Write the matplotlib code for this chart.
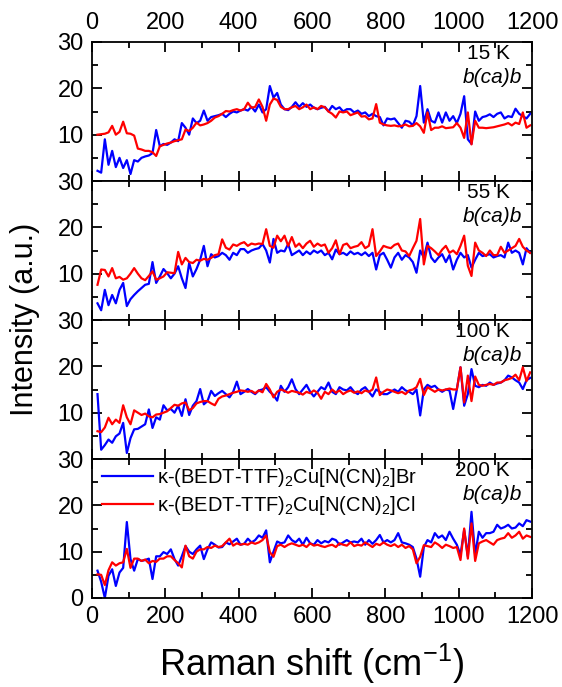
import numpy as np
import matplotlib
matplotlib.use('Agg')
import matplotlib.pyplot as plt

# Raman shift grid (cm-1), 15 ... 1195
shift = np.arange(15, 1200, 10)

temps = ['15 K', '55 K', '100 K', '200 K']

# kappa-Br (blue) spectra
br_15 = [2.2, 1.8, 9.0, 3.5, 6.5, 3.0, 5.0, 2.8, 4.5, 1.5,
         4.5, 4.2, 5.0, 5.3, 5.5, 6.0, 11.0, 7.5, 8.0, 7.8,
         8.3, 9.0, 8.6, 12.5, 11.5, 10.0, 13.5, 12.5, 13.0, 15.2,
         13.0, 13.8, 14.0, 14.2, 14.5, 13.8, 14.5, 15.0, 14.8, 15.2,
         15.5, 15.2, 16.0, 15.0, 16.5, 14.8, 15.5, 20.5, 18.0, 19.0,
         16.5, 15.5, 15.3, 16.0, 17.0, 16.0, 16.8, 16.0, 16.5, 15.8,
         15.5, 15.8, 16.0, 15.0, 16.2, 15.5, 15.9, 15.0, 15.5, 15.5,
         14.8, 15.2, 14.5, 14.8, 14.0, 14.5, 14.0, 13.8, 12.0, 13.5,
         13.3, 13.5, 12.5, 11.5, 13.0, 12.8, 12.0, 14.0, 20.5, 12.6,
         15.5, 13.0, 12.6, 14.8, 12.6, 14.8, 13.0, 14.0, 12.5, 14.5,
         18.3, 9.0, 8.0, 15.0, 13.0, 13.8, 14.0, 14.4, 13.8, 14.5,
         14.8, 13.5, 14.0, 13.8, 15.6, 14.5, 14.0, 13.5, 14.5]
br_55 = [3.6, 2.1, 6.5, 3.2, 5.4, 3.6, 6.5, 8.0, 3.0, 4.5,
         5.4, 6.2, 6.9, 7.6, 7.8, 12.5, 8.0, 9.4, 11.0, 10.1,
         9.0, 10.0, 11.6, 9.0, 6.9, 12.3, 9.4, 11.0, 13.0, 16.0,
         11.6, 14.2, 13.5, 13.8, 14.5, 14.0, 13.0, 14.5, 14.0, 15.3,
         15.3, 14.5, 15.0, 15.3, 15.5, 16.4, 15.0, 12.4, 17.5, 14.5,
         15.0, 14.8, 16.4, 14.0, 14.5, 15.0, 14.0, 14.8, 14.2, 15.0,
         14.5, 15.0, 14.0, 14.5, 13.1, 15.2, 14.2, 14.5, 14.0, 14.8,
         14.2, 14.5, 14.0, 14.6, 13.8, 14.5, 10.9, 14.0, 14.5, 13.0,
         11.3, 13.5, 14.5, 13.0, 14.0, 13.5, 12.5, 10.2, 15.0, 13.5,
         16.7, 13.5, 12.5, 13.5, 14.2, 12.5, 14.0, 10.9, 13.0, 14.5,
         13.5, 14.0, 11.3, 13.0, 14.5, 13.8, 14.0, 14.2, 13.5, 13.8,
         14.0, 13.5, 16.7, 14.5, 15.0, 14.5, 12.0, 15.5, 14.5]
br_100 = [14.0, 2.0, 3.0, 4.2, 3.5, 4.9, 5.5, 7.8, 1.3, 4.5,
          6.4, 6.5, 7.0, 7.5, 10.7, 6.7, 9.0, 8.5, 11.6, 10.5,
          10.8, 10.0, 11.5, 9.3, 12.9, 9.5, 11.5, 12.5, 15.1, 11.8,
          12.5, 14.7, 13.6, 14.2, 14.7, 14.0, 13.3, 14.5, 16.7, 14.0,
          14.5, 15.1, 14.5, 14.0, 14.8, 15.0, 15.5, 14.5, 13.8, 12.6,
          15.8, 14.5, 15.5, 17.2, 15.1, 14.0, 15.0, 16.0, 14.5, 13.5,
          14.5, 15.5, 15.0, 16.5, 14.5, 14.0, 15.5, 15.0, 14.8, 15.5,
          14.5, 14.0, 15.0, 15.5, 14.5, 13.5, 15.0, 14.5, 14.0, 14.0,
          14.5, 15.0, 14.5, 15.5, 14.8, 14.5, 14.0, 15.0, 9.4, 15.0,
          16.0, 15.5, 15.8, 15.0, 14.5, 15.0, 14.8, 10.8, 15.0, 19.8,
          11.5, 14.0, 19.4, 15.8, 15.5, 16.0, 15.8, 16.5, 16.0, 16.3,
          16.5, 17.0, 18.0, 17.6, 17.0, 16.5, 15.1, 17.0, 17.5]
br_200 = [5.9, 3.5, 0.0, 4.8, 6.2, 2.6, 5.5, 6.5, 16.4, 8.4,
          5.9, 8.4, 8.0, 8.2, 8.5, 4.1, 9.0, 9.0, 9.9, 9.5,
          10.5, 8.4, 7.0, 9.0, 11.2, 10.0, 9.5, 10.5, 11.3, 8.4,
          10.5, 12.0, 11.5, 10.9, 11.0, 12.0, 11.6, 12.2, 12.8, 11.5,
          11.7, 12.8, 12.0, 12.5, 13.5, 13.0, 14.6, 7.7, 10.0, 12.2,
          11.8, 12.0, 13.5, 12.5, 12.0, 12.8, 11.5, 13.0, 11.8, 11.5,
          12.5, 11.8, 12.3, 12.0, 12.8, 12.5, 11.5, 12.0, 12.5, 12.0,
          12.2, 12.0, 12.8, 11.5, 12.5, 11.7, 12.5, 13.6, 12.0, 12.5,
          12.0, 12.5, 14.0, 12.0, 11.8, 11.5, 11.0, 8.5, 4.6, 11.0,
          12.5, 12.0, 14.0, 13.0, 13.5, 12.5, 14.3, 12.8, 11.5, 9.3,
          14.7, 9.0, 18.6, 9.3, 14.3, 13.0, 14.0, 14.0, 14.3, 15.8,
          15.0, 15.3, 15.8, 15.0, 15.2, 16.1, 15.5, 16.8, 16.5]

# kappa-Cl (red) spectra
cl_15 = [10.0, 10.1, 10.2, 10.5, 11.9, 10.0, 10.6, 12.8, 10.3, 10.2,
         9.8, 7.0, 6.8, 6.5, 6.5, 6.2, 5.4, 7.5, 7.8, 8.1,
         8.3, 8.6, 8.8, 9.0, 11.1, 10.8, 11.5, 12.6, 12.0, 12.2,
         12.5, 13.0, 13.7, 14.0, 14.5, 15.1, 15.0, 15.3, 15.5, 15.2,
         15.5, 16.9, 15.8, 16.0, 17.6, 16.0, 13.0, 16.5, 17.8, 17.5,
         16.0, 15.5, 15.5, 15.9, 16.2, 15.5, 15.9, 16.5, 15.5, 15.9,
         15.5, 16.2, 15.9, 15.0, 14.5, 13.7, 15.0, 14.8, 15.0, 14.2,
         14.5, 14.8, 13.9, 14.0, 13.3, 13.5, 16.6, 12.6, 12.2, 12.0,
         11.9, 12.0, 11.8, 11.9, 12.2, 11.8, 11.9, 12.5, 11.8, 10.4,
         14.8, 11.0, 11.5, 11.5, 11.8, 11.4, 11.5, 11.6, 12.5, 11.5,
         9.3, 14.8, 7.9, 13.0, 11.5, 11.5, 11.4, 11.5, 11.6, 11.8,
         12.0, 12.2, 12.5, 12.0, 12.6, 12.3, 14.8, 11.5, 12.0]
cl_55 = [7.6, 10.9, 10.8, 9.4, 11.2, 9.0, 9.3, 8.7, 9.0, 10.0,
         11.2, 10.0, 9.0, 8.6, 9.5, 10.5, 8.7, 9.0, 9.4, 10.3,
         10.2, 10.1, 14.7, 12.0, 13.4, 12.5, 12.3, 13.0, 12.8, 13.2,
         13.0, 13.4, 14.0, 14.2, 17.4, 15.6, 15.2, 16.3, 16.0, 16.5,
         16.8, 16.0, 16.5, 16.3, 16.5, 16.4, 19.6, 16.0, 15.6, 18.2,
         17.0, 18.2, 16.0, 17.9, 15.8, 16.5, 15.5, 16.5, 17.1, 15.8,
         16.5, 16.0, 16.3, 14.5, 15.5, 17.2, 14.2, 16.2, 16.5, 15.5,
         15.8, 16.0, 16.8, 15.5, 16.0, 19.6, 13.8, 14.8, 16.0, 15.7,
         15.5, 16.2, 16.5, 15.0, 14.8, 13.8, 15.5, 17.1, 21.8, 12.0,
         16.0, 15.5, 14.8, 14.0, 15.2, 16.0, 14.5, 15.0, 14.2, 16.0,
         18.2, 11.7, 9.5, 16.7, 15.0, 14.5, 13.8, 15.0, 14.0, 14.0,
         15.8, 14.5, 15.0, 15.5, 16.0, 17.5, 15.8, 15.0, 14.5]
cl_100 = [6.0, 5.8, 6.8, 8.9, 7.5, 8.5, 7.8, 11.6, 9.0, 7.5,
          10.5, 10.0, 9.5, 9.8, 9.2, 9.0, 9.6, 9.7, 10.0, 10.3,
          11.0, 11.7, 11.5, 12.0, 12.2, 10.5, 11.0, 12.0, 12.3, 12.5,
          12.5, 12.0, 11.6, 13.0, 13.5, 13.7, 14.0, 14.3, 14.5, 14.8,
          14.7, 14.5, 14.7, 14.2, 14.8, 14.4, 16.2, 15.0, 13.3, 14.5,
          15.0, 14.7, 14.3, 14.7, 14.5, 14.3, 13.9, 14.5, 14.2, 14.8,
          14.3, 13.0, 14.5, 14.0, 15.0, 14.3, 14.8, 14.0, 14.5, 14.8,
          14.3, 14.6, 14.2, 14.8, 14.5, 15.0, 17.6, 13.8, 14.5, 15.0,
          14.8, 14.5, 14.2, 14.5, 14.0, 14.8, 15.0, 15.5, 17.3, 13.8,
          15.5, 15.0, 14.5, 15.0, 14.8, 15.0, 15.2, 15.0, 15.0, 19.8,
          12.2, 18.0, 12.5, 17.8, 16.0, 15.8, 16.0, 16.2, 16.0, 16.5,
          16.5, 17.0, 17.2, 17.5, 18.2, 17.0, 19.8, 16.8, 18.7]
cl_200 = [5.1, 5.0, 2.8, 6.0, 7.7, 7.0, 7.5, 7.7, 10.6, 6.5,
          8.5, 8.5, 8.0, 8.3, 7.5, 8.0, 7.8, 8.5, 8.5, 9.0,
          9.0, 8.2, 7.5, 6.6, 11.3, 9.0, 8.5, 10.0, 10.5, 10.5,
          11.0, 10.8, 11.3, 11.0, 11.2, 12.0, 12.8, 11.3, 11.8, 11.5,
          11.7, 11.5, 12.0, 11.7, 12.0, 12.5, 13.5, 9.9, 8.9, 11.2,
          11.5, 11.0, 11.5, 11.8, 11.5, 11.2, 11.5, 11.0, 11.8, 11.3,
          11.5, 11.2, 11.0, 11.3, 11.5, 11.0, 11.8, 11.5, 11.3, 12.0,
          11.2, 11.5, 11.3, 12.0, 11.5, 11.0, 11.7, 11.4, 12.0, 11.5,
          11.2, 11.6, 11.0, 11.5, 10.8, 11.2, 10.5, 7.5, 8.9, 11.4,
          11.2, 11.0, 12.0, 11.5, 10.8, 11.5, 11.2, 10.8, 11.0, 8.2,
          15.0, 8.5, 16.1, 8.0, 11.8, 12.2, 12.5, 12.0, 11.5, 12.5,
          12.8, 13.0, 14.0, 13.0, 13.5, 14.3, 12.8, 13.5, 13.2]

br_all = [br_15, br_55, br_100, br_200]
cl_all = [cl_15, cl_55, cl_100, cl_200]

plt.rcParams['font.family'] = ['Liberation Sans', 'DejaVu Sans']
plt.rcParams['mathtext.default'] = 'regular'

fig = plt.figure(figsize=(5.62, 6.87), dpi=100)

left, right = 92 / 562, 532 / 562
top, bottom = 1 - 42 / 687, 1 - 598 / 687
h = (top - bottom) / 4

for i in range(4):
    ax = fig.add_axes([left, top - (i + 1) * h, right - left, h])
    ax.plot(shift, br_all[i], color='#0000ff', lw=1.6,
            label='κ-(BEDT-TTF)$_2$Cu[N(CN)$_2$]Br')
    ax.plot(shift, cl_all[i], color='#ff0000', lw=1.6,
            label='κ-(BEDT-TTF)$_2$Cu[N(CN)$_2$]Cl')
    ax.set_xlim(0, 1200)
    ax.set_ylim(0, 30)
    ax.set_xticks(range(0, 1201, 200))
    ax.set_xticks(range(100, 1200, 200), minor=True)
    ax.set_yticks([0, 10, 20, 30])
    ax.set_yticks([5, 15, 25], minor=True)
    if i < 3:
        ax.set_yticklabels(['', '10', '20', '30'])
    for s in ax.spines.values():
        s.set_linewidth(1.3)
    ax.tick_params(which='both', direction='in', top=True, right=True,
                   labelbottom=(i == 3), labeltop=(i == 0),
                   labelsize=17, width=1.3)
    ax.tick_params(which='major', length=7)
    ax.tick_params(which='minor', length=4)
    ax.tick_params(axis='x', pad=6)
    ax.tick_params(axis='y', pad=6)
    ax.text(0.95, 0.915, temps[i], transform=ax.transAxes, ha='right',
            va='center', fontsize=15)
    ax.text(0.977, 0.745, 'b(ca)b', transform=ax.transAxes, ha='right',
            va='center', fontsize=15, style='italic')
    if i == 3:
        ax.legend(loc='upper left', bbox_to_anchor=(-0.018, 1.08),
                  frameon=False, fontsize=14.5, handlelength=2.5,
                  handletextpad=0.2, labelspacing=0.25)

fig.text(0.045, 0.535, 'Intensity (a.u.)', rotation=90, ha='center',
         va='center', fontsize=22)
fig.text((left + right) / 2, 1 - 664 / 687, 'Raman shift (cm$^{-1}$)',
         ha='center', va='center', fontsize=26)

fig.savefig('out.png', dpi=100)
